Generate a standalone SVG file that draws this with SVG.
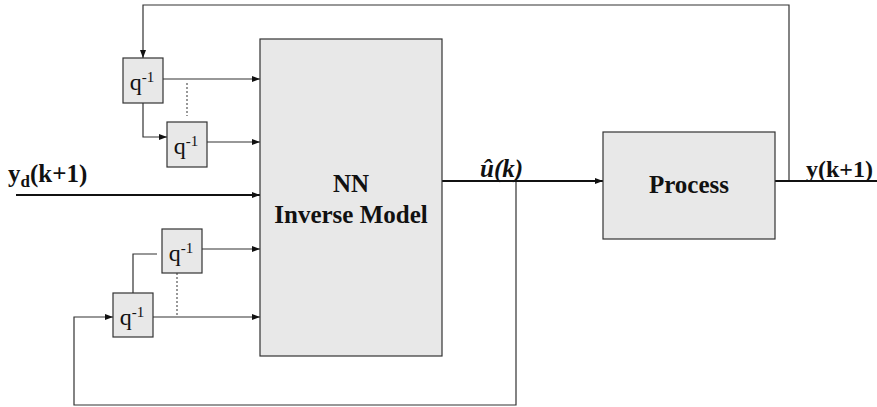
<svg xmlns="http://www.w3.org/2000/svg" width="877" height="407" viewBox="0 0 877 407">
<style>
.blk{fill:#e8e8e8;stroke:#333;stroke-width:1.2}
.ln{fill:none;stroke:#333;stroke-width:1.2}
.thk{fill:none;stroke:#111;stroke-width:2}
.dot{fill:none;stroke:#555;stroke-width:1.2;stroke-dasharray:2,2}
text{font-family:'Liberation Serif','Times New Roman','Noto Serif',Tinos,'DejaVu Serif',FreeSerif,serif;fill:#111}
.q{font-size:24px;text-anchor:middle}
.b{font-size:25px;font-weight:bold}
</style>
<defs>
<marker id="ar" viewBox="0 0 8 6" refX="8" refY="3" markerWidth="8" markerHeight="6" markerUnits="userSpaceOnUse" orient="auto">
<path d="M0,0 L8,3 L0,6 z" fill="#111"/>
</marker>
</defs>
<g id="connectors">
<path class="ln" d="M789,181 V5 H143 V58" marker-end="url(#ar)"/>
<path class="ln" d="M163,79 H260" marker-end="url(#ar)"/>
<path class="ln" d="M143,103 V137 H167" marker-end="url(#ar)"/>
<path class="ln" d="M207,142 H260" marker-end="url(#ar)"/>
<path class="dot" d="M187,83 V116"/>
<path class="thk" d="M16,195 H260" marker-end="url(#ar)"/>
<path class="ln" d="M202,249 H260" marker-end="url(#ar)"/>
<path class="ln" d="M133,293 V254 H157"/>
<path class="ln" d="M153,317 H260" marker-end="url(#ar)"/>
<path class="dot" d="M177,273 V317"/>
<path class="ln" d="M516,181 V405 H74 V317 H113" marker-end="url(#ar)"/>
<path class="thk" d="M442,181 H603" marker-end="url(#ar)"/>
<path class="thk" d="M775,181 H877"/>
</g>
<g id="delay1">
<rect class="blk" x="123" y="58" width="40" height="45"/>
<text class="q" x="142" y="90">q<tspan font-size="15" dy="-8">-1</tspan></text>
</g>
<g id="delay2">
<rect class="blk" x="167" y="122" width="40" height="45"/>
<text class="q" x="186" y="154">q<tspan font-size="15" dy="-8">-1</tspan></text>
</g>
<g id="delay3">
<rect class="blk" x="162" y="229" width="40" height="44"/>
<text class="q" x="181" y="261">q<tspan font-size="15" dy="-8">-1</tspan></text>
</g>
<g id="delay4">
<rect class="blk" x="113" y="293" width="40" height="44"/>
<text class="q" x="132" y="325">q<tspan font-size="15" dy="-8">-1</tspan></text>
</g>
<g id="nn">
<rect class="blk" x="260" y="39" width="182" height="317"/>
<text class="b" x="351" y="192" text-anchor="middle">NN</text>
<text class="b" x="351" y="223" text-anchor="middle">Inverse Model</text>
</g>
<g id="process">
<rect class="blk" x="603" y="132" width="172" height="107"/>
<text class="b" x="689" y="193" text-anchor="middle">Process</text>
</g>
<g id="labels">
<text class="b" x="8" y="182">y<tspan font-size="17" dy="5">d</tspan><tspan dy="-5">(k+1)</tspan></text>
<text class="b" x="480" y="177" font-style="italic">û(k)</text>
<text class="b" x="806" y="177" style="font-size:24px">y(k+1)</text>
</g>
</svg>
